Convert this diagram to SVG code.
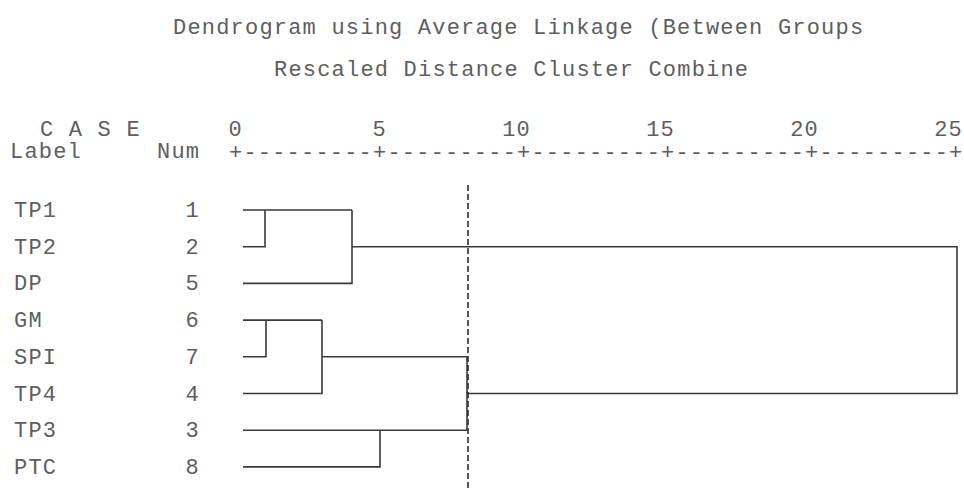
<svg xmlns="http://www.w3.org/2000/svg" width="964" height="490" viewBox="0 0 964 490">
  <style>
    text { font-family: "Liberation Mono", "DejaVu Sans Mono", monospace; font-size: 22px; letter-spacing: 1.2px; fill: #5e5e5e; }
    .num { text-anchor: end; }
    .tree { fill: none; stroke: #3a3a3a; stroke-width: 1.6; }
    .cut { fill: none; stroke: #2e2e2e; stroke-width: 1.6; stroke-dasharray: 6 3; }
  </style>
  <rect width="964" height="490" fill="#ffffff"/>

  <g id="header">
    <text x="173" y="34">Dendrogram using Average Linkage (Between Groups</text>
    <text x="274" y="76">Rescaled Distance Cluster Combine</text>
    <text x="40" y="136">C A S E</text>
    <text x="10" y="158">Label</text>
    <text x="157" y="158">Num</text>
  </g>

  <g id="axis">
    <text class="num" x="243" y="136">0</text>
    <text class="num" x="387" y="136">5</text>
    <text class="num" x="531" y="136">10</text>
    <text class="num" x="675" y="136">15</text>
    <text class="num" x="819" y="136">20</text>
    <text class="num" x="963" y="136">25</text>
    <text x="229" y="159">+---------+---------+---------+---------+---------+</text>
  </g>

  <g id="leaf-TP1"><text x="14" y="217">TP1</text><text class="num" x="200" y="217">1</text></g>
  <g id="leaf-TP2"><text x="14" y="254">TP2</text><text class="num" x="200" y="254">2</text></g>
  <g id="leaf-DP"><text x="14" y="290">DP</text><text class="num" x="200" y="290">5</text></g>
  <g id="leaf-GM"><text x="14" y="327">GM</text><text class="num" x="200" y="327">6</text></g>
  <g id="leaf-SPI"><text x="14" y="364">SPI</text><text class="num" x="200" y="364">7</text></g>
  <g id="leaf-TP4"><text x="14" y="401">TP4</text><text class="num" x="200" y="401">4</text></g>
  <g id="leaf-TP3"><text x="14" y="437">TP3</text><text class="num" x="200" y="437">3</text></g>
  <g id="leaf-PTC"><text x="14" y="474">PTC</text><text class="num" x="200" y="474">8</text></g>

  <g id="connectors">
    <path class="tree" d="M243 210 H352 M243 246.7 H265 V210"/>
    <path class="tree" d="M243 283.4 H352 V210"/>
    <path class="tree" d="M243 320.1 H322 M243 356.8 H266 V320.1"/>
    <path class="tree" d="M243 393.5 H322 V320.1"/>
    <path class="tree" d="M243 430.2 H467 M243 466.9 H380 V430.2"/>
    <path class="tree" d="M322 356.8 H467 V430.2"/>
    <path class="tree" d="M352 246.7 H957 V393.5 H467"/>
  </g>

  <g id="cut-line">
    <line class="cut" x1="468" y1="185" x2="468" y2="490"/>
  </g>
</svg>
